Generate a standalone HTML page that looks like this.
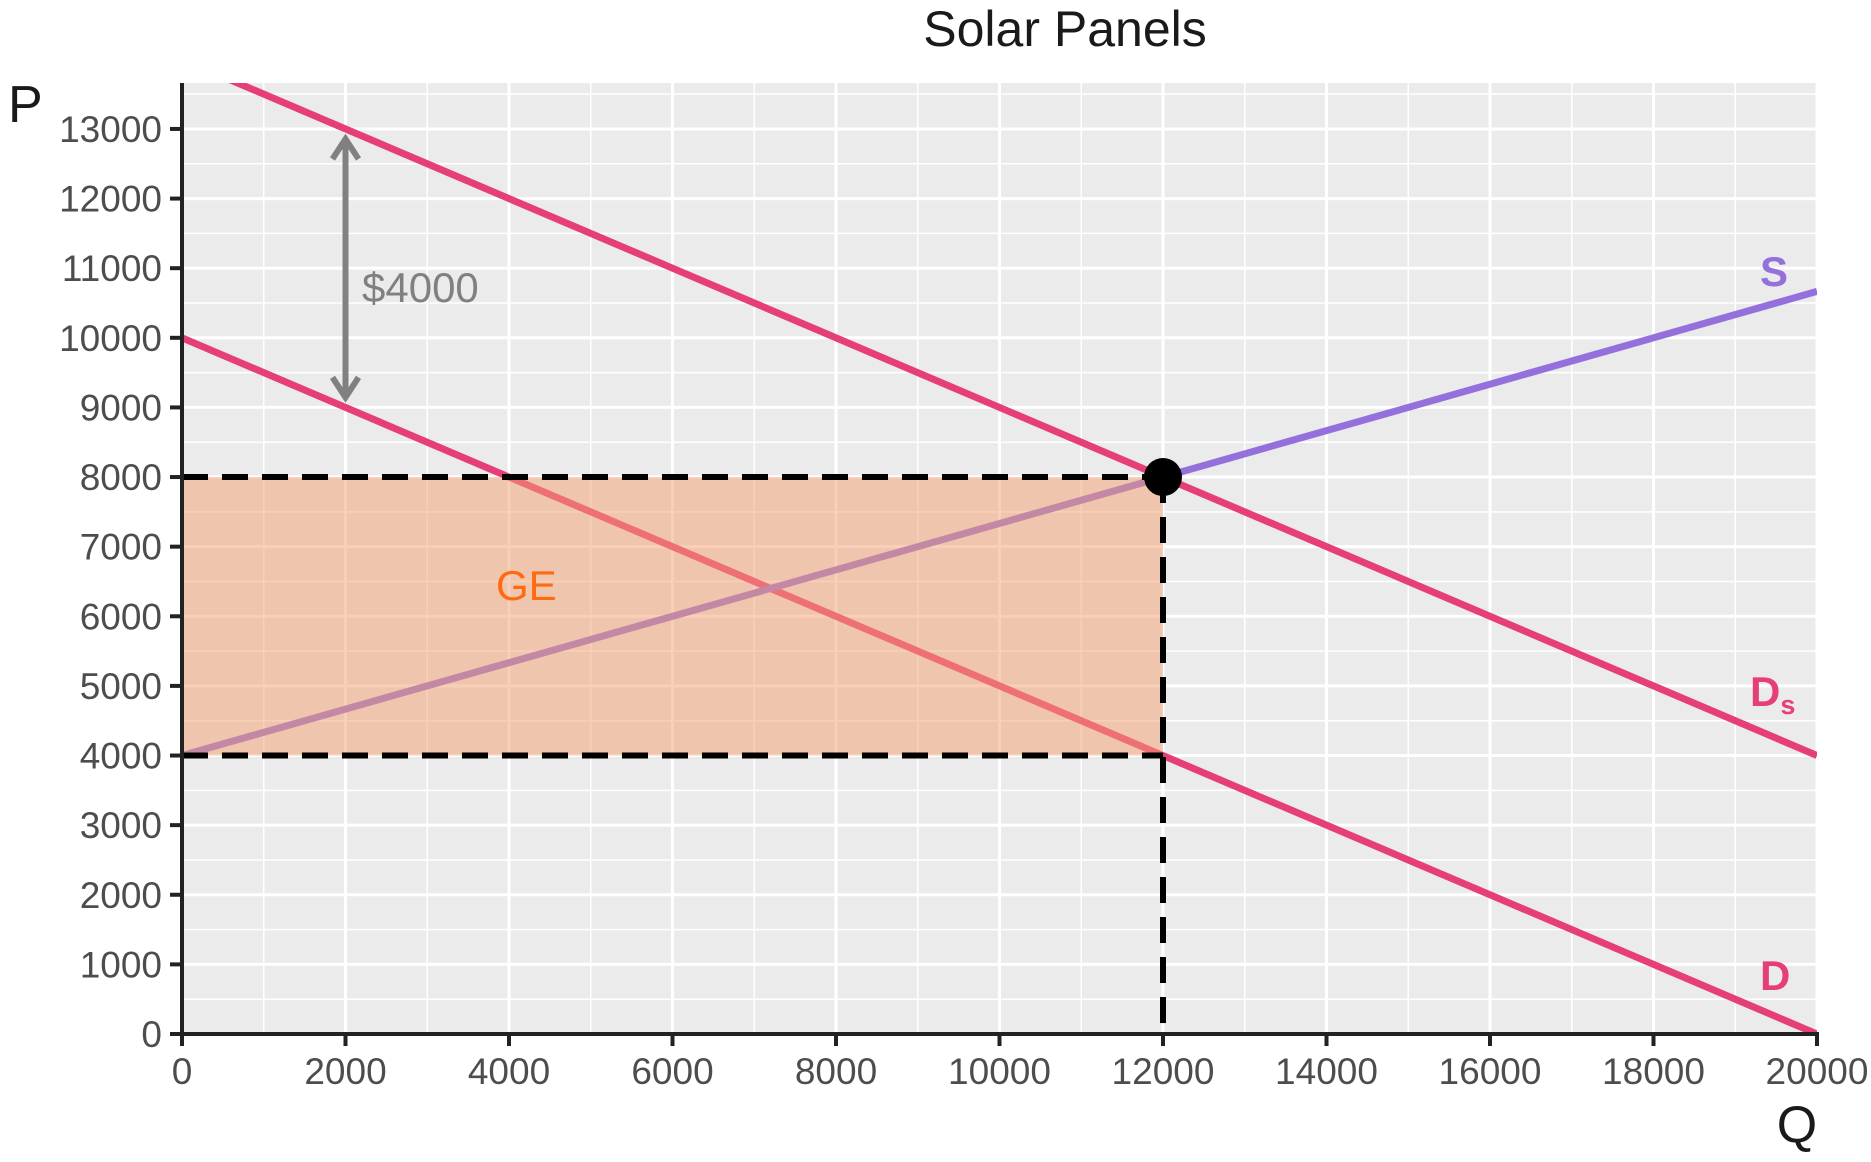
<!DOCTYPE html>
<html><head><meta charset="utf-8"><style>
html,body{margin:0;padding:0;background:#fff;}
svg{display:block;font-family:"Liberation Sans",sans-serif;}
</style></head><body>
<svg id="chart" width="1871" height="1162" viewBox="0 0 1871 1162" xmlns="http://www.w3.org/2000/svg">
<defs><clipPath id="pclip"><rect x="182" y="83" width="1635" height="951"/></clipPath></defs>
</svg>
<script>
const xTicks=[0,2000,4000,6000,8000,10000,12000,14000,16000,18000,20000];
const yTicks=[0,1000,2000,3000,4000,5000,6000,7000,8000,9000,10000,11000,12000,13000];
const demandP=[10000,0];      // D at Q=0 and Q=20000
const demandSP=[14000,4000];  // Ds at Q=0 and Q=20000
const supplyP=[4000,10666.67];// S at Q=0 and Q=20000
const curveQ=[0,20000];
const eqQ=[12000];
const eqP=[8000];
const geLow=[4000];
const subsidy=[4000];
const arrowQ=[2000];

const L=182,R=1817,T=83,B=1034,XMAX=20000,YMAX=13660;
const sx=v=>L+(R-L)*v/XMAX;
const sy=v=>B-(B-T)*v/YMAX;
const svg=document.getElementById('chart');
const NS='http://www.w3.org/2000/svg';
function mk(tag,attrs,parent){const e=document.createElementNS(NS,tag);for(const k in attrs)e.setAttribute(k,attrs[k]);(parent||svg).appendChild(e);return e;}

const panel=mk('rect',{x:L,y:T,width:R-L,height:B-T,fill:'#ebebeb'});


for(let v=0;v<=XMAX;v+=1000){const g=mk('line',{x1:sx(v),x2:sx(v),y1:T,y2:B,stroke:'#fff','stroke-width':v%2000===0?3:1.5});

}
for(let v=0;v<=YMAX;v+=500){const g=mk('line',{x1:L,x2:R,y1:sy(v),y2:sy(v),stroke:'#fff','stroke-width':v%1000===0?3:1.5});

}

const gc=mk('g',{'clip-path':'url(#pclip)'});
function curve(arr,color,name){const l=mk('line',{x1:sx(curveQ[0]),y1:sy(arr[0]),x2:sx(curveQ[1]),y2:sy(arr[1]),stroke:color,'stroke-width':7},gc);

}
curve(demandSP,'#e63e78','demand-with-subsidy-line');
curve(demandP,'#e63e78','demand-line');
curve(supplyP,'#9370db','supply-line');

const ge=mk('rect',{x:sx(0),y:sy(eqP[0]),width:sx(eqQ[0])-sx(0),height:sy(geLow[0])-sy(eqP[0]),fill:'#f6a070','fill-opacity':0.5});



function dash(x1,y1,x2,y2,name){const d=mk('line',{x1,y1,x2,y2,stroke:'#000','stroke-width':6,'stroke-dasharray':'26,14'});

}
dash(sx(0),sy(eqP[0]),sx(eqQ[0]),sy(eqP[0]),'price-8000-dashed');
dash(sx(0),sy(geLow[0]),sx(eqQ[0]),sy(geLow[0]),'price-4000-dashed');
dash(sx(eqQ[0]),sy(eqP[0]),sx(eqQ[0]),B,'quantity-12000-dashed');

const pt=mk('circle',{cx:sx(eqQ[0]),cy:sy(eqP[0]),r:19,fill:'#000'});



const aTop=sy(demandP[0]-0.5*arrowQ[0]+subsidy[0])+6, aBot=sy(demandP[0]-0.5*arrowQ[0])-6;
const ax=sx(arrowQ[0]);
const ag=mk('g',{stroke:'#808080','stroke-width':6,fill:'none'});


mk('line',{x1:ax,y1:aTop+4,x2:ax,y2:aBot-4},ag);
mk('polyline',{points:`${ax-13},${aTop+24} ${ax},${aTop+4} ${ax+13},${aTop+24}`},ag);
mk('polyline',{points:`${ax-13},${aBot-24} ${ax},${aBot-4} ${ax+13},${aBot-24}`},ag);

function txt(x,y,s,attrs,name){const t=mk('text',Object.assign({x,y},attrs));t.textContent=s;

return t;}
txt(362,302,'$4000',{fill:'#808080','font-size':42},'subsidy-label');
txt(496,600,'GE',{fill:'#ff6a10','font-size':42},'ge-label');
txt(1760,286,'S',{fill:'#9370db','font-size':42,'font-weight':'bold'},'supply-label');
const ds=txt(1750,706,'D',{fill:'#e63e78','font-size':42,'font-weight':'bold'},'demand-subsidy-label');
const sub=mk('tspan',{'font-size':27,dy:8});sub.textContent='s';ds.appendChild(sub);
txt(1760,990,'D',{fill:'#e63e78','font-size':42,'font-weight':'bold'},'demand-label');

const ya=mk('line',{x1:L,y1:T,x2:L,y2:B+2,stroke:'#222','stroke-width':4});


const xa=mk('line',{x1:L-2,y1:B,x2:R+2,y2:B,stroke:'#222','stroke-width':4});


yTicks.forEach(v=>{const t=mk('line',{x1:L-12,x2:L,y1:sy(v),y2:sy(v),stroke:'#222','stroke-width':4});


txt(L-20,sy(v)+13,String(v),{fill:'#4d4d4d','font-size':37,'text-anchor':'end'},'y-tick-label');});
xTicks.forEach(v=>{const t=mk('line',{x1:sx(v),x2:sx(v),y1:B,y2:B+12,stroke:'#222','stroke-width':4});


txt(sx(v),B+50,String(v),{fill:'#4d4d4d','font-size':37,'text-anchor':'middle'},'x-tick-label');});

txt(1065,46,'Solar Panels',{fill:'#1a1a1a','font-size':50,'text-anchor':'middle'},'chart-title');
txt(8,122,'P',{fill:'#1a1a1a','font-size':52},'y-axis-title');
txt(1797,1142,'Q',{fill:'#1a1a1a','font-size':52,'text-anchor':'middle'},'x-axis-title');
</script>
</body></html>
